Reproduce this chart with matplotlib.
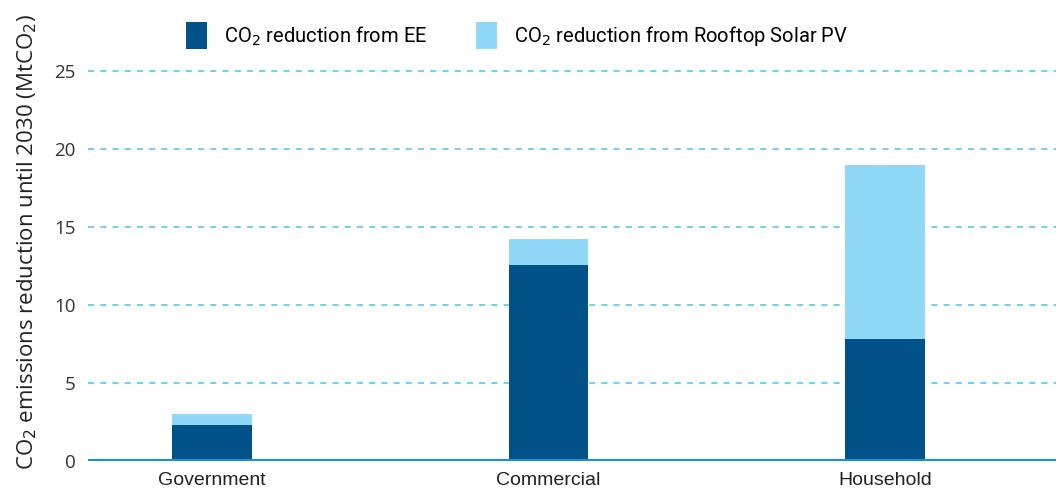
import numpy as np
import matplotlib.pyplot as plt

sectors = ['Government', 'Commercial', 'Household']
ee_reduction = [2.3, 12.6, 7.8]
solar_reduction = [0.7, 1.65, 11.2]
yticks = [0, 5, 10, 15, 20, 25]

ee_color = '#02528a'
solar_color = '#8fd8f6'
grid_color = '#4cc4ef'
axis_color = '#1b8fd4'

fig = plt.figure(figsize=(10.56, 4.95), dpi=100)
ax = fig.add_axes([88 / 1056, 34 / 495, 968 / 1056, 421 / 495])

x = np.arange(len(sectors))
width = 0.237
ax.bar(x, ee_reduction, width, color=ee_color, label='CO$_2$ reduction from EE', zorder=3)
ax.bar(x, solar_reduction, width, bottom=ee_reduction, color=solar_color,
       label='CO$_2$ reduction from Rooftop Solar PV', zorder=3)

ax.set_xlim(-0.368, 2.508)
ax.set_ylim(0, 27)
ax.set_yticks(yticks)
ax.set_yticklabels([str(t) for t in yticks], fontsize=13.5, family='Open Sans', color='#333333')
ax.set_xticks(x)
ax.set_xticklabels(sectors, fontsize=14, family='Liberation Sans', color='#222222')
ax.tick_params(length=0, pad=9)
ax.tick_params(axis='x', pad=8)

for t in yticks[1:]:
    ax.axhline(t, color=grid_color, lw=1.1, ls=(0, (4, 4)), zorder=1)
ax.axhline(0, color=axis_color, lw=3, zorder=4)

for s in ax.spines.values():
    s.set_visible(False)

ylab = ax.set_ylabel('CO$_2$ emissions reduction until 2030 (MtCO$_2$)', fontsize=14.2,
                     family='Open Sans', color='#222222')
ax.yaxis.set_label_coords(-0.051, 0.52)

# size the axis title so it runs almost the full figure height
renderer = fig.canvas.get_renderer()
h = ylab.get_window_extent(renderer).height
ylab.set_fontsize(14.2 * 458 / h)

fig.legend(loc='upper left', bbox_to_anchor=(168 / 1056, 1 - 4 / 495), ncol=2,
           frameon=False, prop={'family': 'Roboto', 'size': 14.5},
           handlelength=1.05, handleheight=1.7, columnspacing=2.4, handletextpad=0.85)

fig.savefig('out.png', dpi=100)
